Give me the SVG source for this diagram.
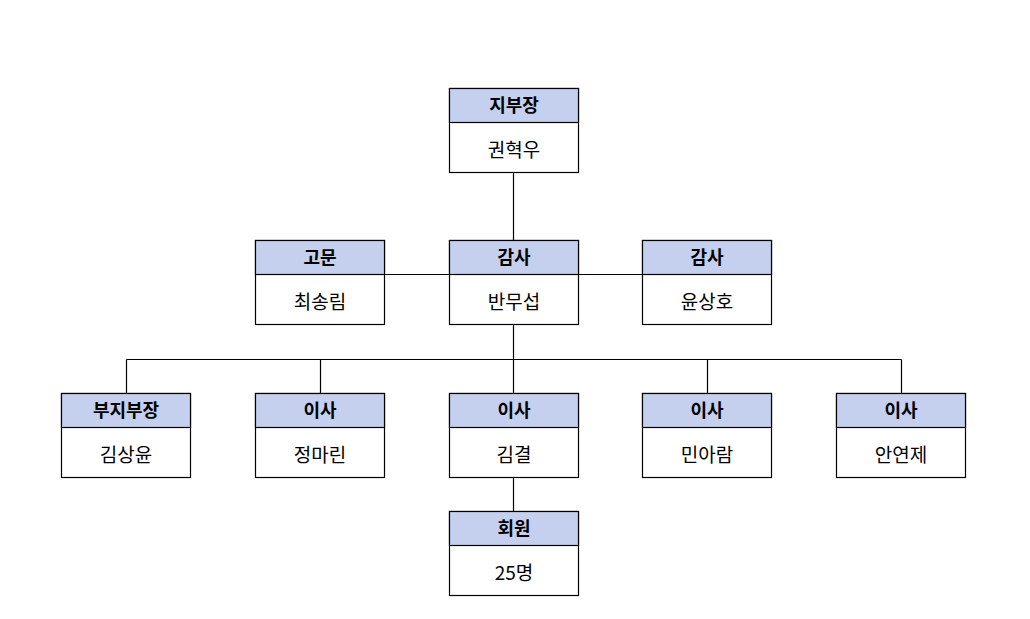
<svg xmlns="http://www.w3.org/2000/svg" width="1030" height="619" viewBox="0 0 1030 619">
<style>
.b{fill:#fff;stroke:#000;stroke-width:1.2}
.h{fill:#c5d0ef;stroke:#000;stroke-width:1.2}
.t{font-family:"Noto Sans CJK KR",sans-serif;font-size:19px;text-anchor:middle;fill:#000}
.th{font-weight:bold;font-size:18px}
.c{stroke:#000;stroke-width:1.2;fill:none}
</style>
<rect width="1030" height="619" fill="#fff"/>
<g id="connectors">
<path class="c" d="M513.5 172V240M384 274.5H642M513.5 324V359.5M126.5 359.5H901.5M126.5 359.5V393M320.5 359.5V393M513.5 359.5V393M707.5 359.5V393M901.5 359.5V393M513.5 477V511"/>
</g>
<g id="n1"><rect class="b" x="449.5" y="88.5" width="129" height="84"/><rect class="h" x="449.5" y="88.5" width="129" height="34"/><text class="t th" x="514" y="112">지부장</text><text class="t" x="514" y="157">권혁우</text></g>
<g id="n2"><rect class="b" x="255.5" y="240.5" width="129" height="84"/><rect class="h" x="255.5" y="240.5" width="129" height="34"/><text class="t th" x="320" y="264">고문</text><text class="t" x="320" y="309">최송림</text></g>
<g id="n3"><rect class="b" x="449.5" y="240.5" width="129" height="84"/><rect class="h" x="449.5" y="240.5" width="129" height="34"/><text class="t th" x="514" y="264">감사</text><text class="t" x="514" y="309">반무섭</text></g>
<g id="n4"><rect class="b" x="642.5" y="240.5" width="129" height="84"/><rect class="h" x="642.5" y="240.5" width="129" height="34"/><text class="t th" x="707" y="264">감사</text><text class="t" x="707" y="309">윤상호</text></g>
<g id="n5"><rect class="b" x="61.5" y="393.5" width="129" height="84"/><rect class="h" x="61.5" y="393.5" width="129" height="34"/><text class="t th" x="126" y="417">부지부장</text><text class="t" x="126" y="462">김상윤</text></g>
<g id="n6"><rect class="b" x="255.5" y="393.5" width="129" height="84"/><rect class="h" x="255.5" y="393.5" width="129" height="34"/><text class="t th" x="320" y="417">이사</text><text class="t" x="320" y="462">정마린</text></g>
<g id="n7"><rect class="b" x="449.5" y="393.5" width="129" height="84"/><rect class="h" x="449.5" y="393.5" width="129" height="34"/><text class="t th" x="514" y="417">이사</text><text class="t" x="514" y="462">김결</text></g>
<g id="n8"><rect class="b" x="642.5" y="393.5" width="129" height="84"/><rect class="h" x="642.5" y="393.5" width="129" height="34"/><text class="t th" x="707" y="417">이사</text><text class="t" x="707" y="462">민아람</text></g>
<g id="n9"><rect class="b" x="836.5" y="393.5" width="129" height="84"/><rect class="h" x="836.5" y="393.5" width="129" height="34"/><text class="t th" x="901" y="417">이사</text><text class="t" x="901" y="462">안연제</text></g>
<g id="n10"><rect class="b" x="449.5" y="511.5" width="129" height="84"/><rect class="h" x="449.5" y="511.5" width="129" height="34"/><text class="t th" x="514" y="535">회원</text><text class="t" x="514" y="580">25명</text></g>
</svg>
